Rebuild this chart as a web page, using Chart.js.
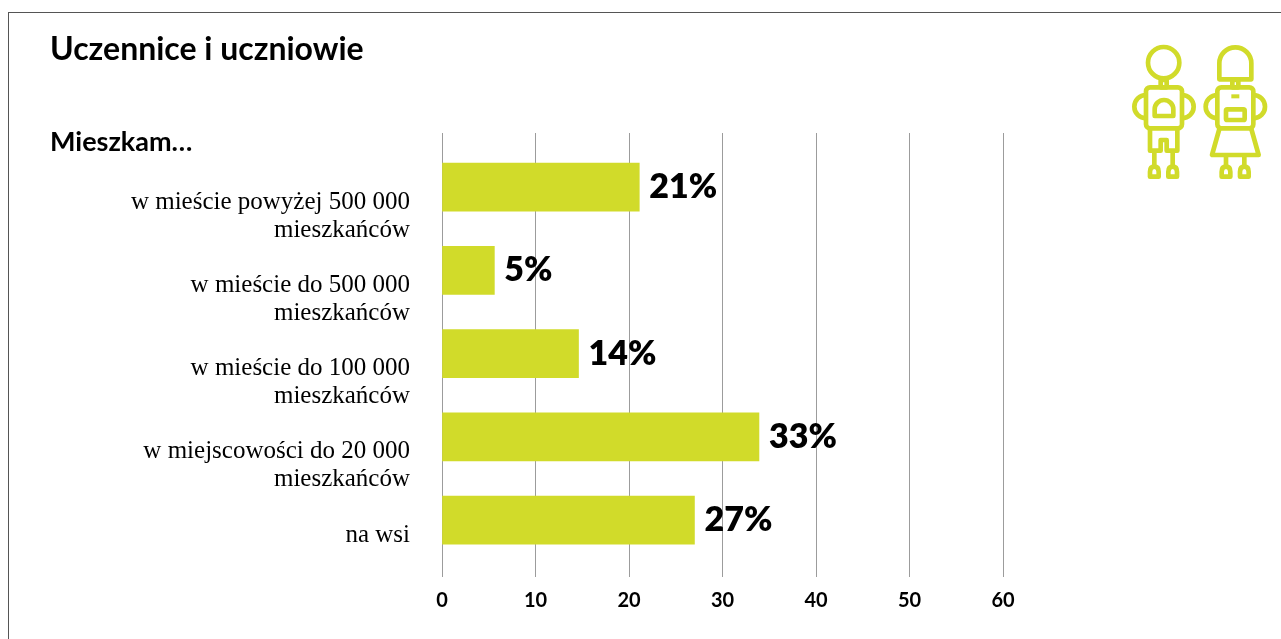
<!DOCTYPE html>
<html lang="pl">
<head>
<meta charset="utf-8">
<title>Uczennice i uczniowie</title>
<script src="https://cdn.jsdelivr.net/npm/chart.js@4"></script>
<style>
    html, body { margin: 0; padding: 0; background: #fff; overflow: hidden; }
    #page { position: relative; width: 1281px; height: 639px; }
    #frame { position: absolute; left: 8px; top: 12px; right: 0; bottom: 0; border-left: 1px solid #555; border-top: 1px solid #555; }
    #chart { position: absolute; left: 0; top: 0; }
    h1, h2 { position: absolute; left: 50px; margin: 0; font-family: Lato, sans-serif; font-weight: 700; color: #000; white-space: nowrap; }
    h1 { top: 29px; font-size: 32px; line-height: 38px; }
    h2 { top: 125px; font-size: 27px; line-height: 32px; }
    #icon { position: absolute; left: 1120px; top: 30px; }
</style>
</head>
<body>
<div id="page">
    <div id="frame"></div>
    <canvas id="chart" width="1281" height="639"></canvas>
    <h1>Uczennice i uczniowie</h1>
    <h2>Mieszkam…</h2>
    <!-- ikonka dziecka -->
    <svg id="icon" width="161" height="160" viewBox="0 0 483 480" fill="none" stroke="#d1db2a" stroke-width="14" stroke-linejoin="round">
        <circle cx="131" cy="98" r="47"/>
        <rect x="122" y="150" width="18" height="22"/>
        <rect x="78" y="172" width="108" height="123" rx="12"/>
        <path d="M78 195 A35 35 0 0 0 78 265 M186 195 A35 35 0 0 1 186 265"/>
        <path d="M104 258 V238 A27 27 0 0 1 160 238 V258 Z"/>
        <path d="M90 295 V362 H122 V330 H140 V362 H172 V295"/>
        <path d="M103 362 V408 M158 362 V408"/>
        <path d="M90 440 V425 Q90 410 103 410 Q116 410 116 425 V440 Z M145 440 V425 Q145 410 158 410 Q171 410 171 425 V440 Z"/>
        <path d="M298 148 V100 A48 48 0 0 1 394 100 V148 Z"/>
        <rect x="337" y="150" width="18" height="22"/>
        <rect x="292" y="172" width="108" height="123" rx="12"/>
        <path d="M292 195 A35 35 0 0 0 292 265 M400 195 A35 35 0 0 1 400 265"/>
        <rect x="318" y="238" width="56" height="32" rx="4"/>
        <rect x="334" y="193" width="24" height="12" fill="#d1db2a" stroke="none"/>
        <path d="M298 297 L276 375 H416 L394 297"/>
        <path d="M318 375 V408 M373 375 V408"/>
        <path d="M305 440 V425 Q305 410 318 410 Q331 410 331 425 V440 Z M360 440 V425 Q360 410 373 410 Q386 410 386 425 V440 Z"/>
    </svg>
</div>
<script>
// kategorie (po dwie linie)
var categories = [
    ['w mieście powyżej 500 000', 'mieszkańców'],
    ['w mieście do 500 000', 'mieszkańców'],
    ['w mieście do 100 000', 'mieszkańców'],
    ['w miejscowości do 20 000', 'mieszkańców'],
    ['na wsi']
];
var values = [21.1, 5.6, 14.6, 33.9, 27];
// podpisy nad slupkami
var valueLabels = ['21%', '5%', '14%', '33%', '27%'];

var barColor = '#d1db2a';
var gridColor = '#9c9c9c';

// podpisy wartosci przy koncu slupka
var valueLabelPlugin = {
    id: 'valueLabels',
    afterDatasetsDraw: function(chart) {
        var ctx = chart.ctx;
        var bars = chart.getDatasetMeta(0).data;
        ctx.save();
        ctx.font = '800 34px Lato, sans-serif';
        ctx.fillStyle = '#000';
        ctx.textAlign = 'left';
        ctx.textBaseline = 'middle';
        for (var i = 0; i < bars.length; i++) {
            ctx.fillText(valueLabels[i], bars[i].x + 10, bars[i].y);
        }
        ctx.restore();
    }
};

var chartCtx = document.getElementById('chart').getContext('2d');
new Chart(chartCtx, {
    type: 'bar',
    data: {
        datasets: [{
            data: values.map(function(v, i) { return { x: v, y: i }; }),
            backgroundColor: barColor,
            borderWidth: 0,
            barThickness: 48
        }]
    },
    options: {
        indexAxis: 'y',
        responsive: false,
        animation: false,
        layout: { padding: { top: 133, right: 278, left: 0, bottom: 0 } },
        plugins: {
            legend: { display: false },
            title: { display: false },
            tooltip: { enabled: false }
        },
        scales: {
            x: {
                type: 'linear',
                min: 0,
                max: 60,
                grid: { color: gridColor, lineWidth: 1, drawTicks: false },
                border: { display: false },
                ticks: {
                    stepSize: 10,
                    padding: 12,
                    color: '#000',
                    font: { family: 'Lato, sans-serif', size: 20, weight: '700' }
                },
                afterFit: function(scale) { scale.height = 62; }
            },
            y: {
                type: 'linear',
                reverse: true,
                offset: false,
                min: -0.65,
                max: 4.683,
                grid: { display: false, drawTicks: false },
                border: { display: false },
                afterBuildTicks: function(scale) {
                    scale.ticks = scale.ticks.filter(function(t) { return Number.isInteger(t.value); });
                },
                ticks: {
                    stepSize: 1,
                    autoSkip: false,
                    padding: 32,
                    labelOffset: 1,
                    color: '#000',
                    font: { family: '"Liberation Serif", serif', size: 25, lineHeight: 1.12 },
                    // podpis zaczyna sie ponizej srodka slupka, stad puste linie
                    callback: function(value) {
                        var lines = categories[value];
                        if (!lines) return '';
                        return lines.length == 2 ? ['', ''].concat(lines) : [''].concat(lines);
                    }
                },
                afterFit: function(scale) { scale.width = 442; }
            }
        }
    },
    plugins: [valueLabelPlugin]
});
</script>
</body>
</html>
